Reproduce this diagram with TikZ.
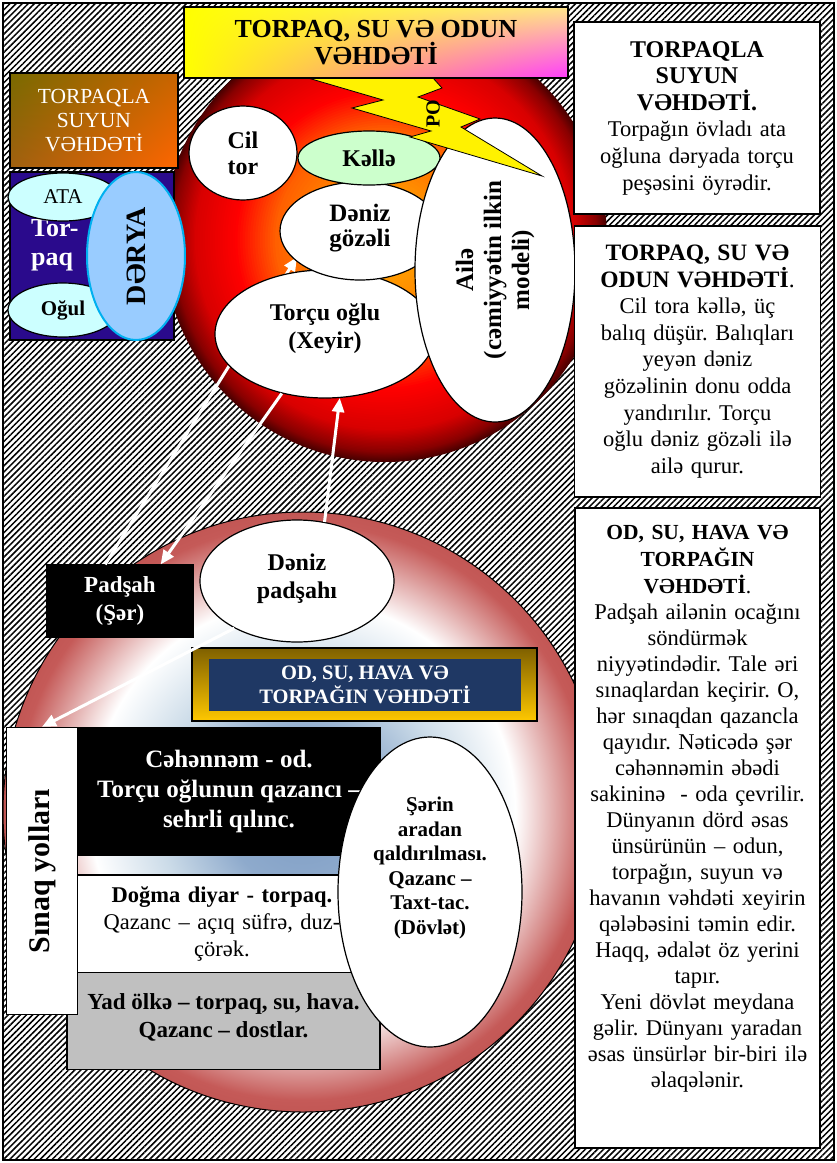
\documentclass[tikz,border=0pt]{standalone}
\usepackage{fontspec}
\setmainfont{Liberation Serif}
\usetikzlibrary{shapes.geometric,arrows.meta,patterns.meta,shadings}
\definecolor{sunA}{HTML}{FFB000}
\definecolor{sunB}{HTML}{FF9000}
\definecolor{sunE}{HTML}{FF6000}
\definecolor{sunC}{HTML}{D80000}
\definecolor{sunF}{HTML}{8A0000}
\definecolor{sunD}{HTML}{4A0000}
\definecolor{ringA}{HTML}{7D9CC4}
\definecolor{ringB}{HTML}{8EAACC}
\definecolor{ringC}{HTML}{CBDBE8}
\definecolor{ringD}{HTML}{C55A58}
\definecolor{ringE}{HTML}{B64A47}
\definecolor{ringF}{HTML}{F0DADA}
\definecolor{ringG}{HTML}{C79896}
\definecolor{ringH}{HTML}{6A2424}
\definecolor{kelleC}{HTML}{CCFFCC}
\definecolor{ataC}{HTML}{CCFFFF}
\definecolor{deryaC}{HTML}{99CCFF}
\definecolor{deryaE}{HTML}{00B0F0}
\definecolor{olvA}{HTML}{7A6A00}
\definecolor{orA}{HTML}{C86400}
\definecolor{orB}{HTML}{A06010}
\definecolor{orC}{HTML}{FF6600}
\definecolor{navyC}{HTML}{1F3864}
\definecolor{goldA}{HTML}{7F6000}
\definecolor{goldB}{HTML}{FFC800}
\definecolor{yadC}{HTML}{C0C0C0}
\definecolor{indA}{HTML}{2A0A8C}
\definecolor{torR}{HTML}{E8103C}
\definecolor{ttlB}{HTML}{FFE58A}
\definecolor{ttlC}{HTML}{FF3CFF}
\pgfdeclareradialshading{ringsun}{\pgfpoint{0bp}{0bp}}{color(0bp)=(ringA); color(6.4bp)=(ringB); color(12bp)=(ringC); color(17.7bp)=(white); color(24bp)=(ringD); color(29bp)=(ringE); color(32.5bp)=(ringF); color(34.3bp)=(ringG); color(35.4bp)=(ringH); color(50bp)=(ringH)}
\newcommand{\fsz}[2]{\fontsize{#1}{#2}\selectfont}
\frenchspacing

\begin{document}
\begin{tikzpicture}[x=1pt, y=-1pt,
  ell/.style={ellipse, draw, line width=1.2pt, fill=white, inner sep=0pt, align=center, font=\fsz{24}{28}\bfseries},
  box/.style={rectangle, draw, line width=1.2pt, inner sep=0pt, align=center},
  rtext/.style={text width=244pt, align=center, inner sep=1pt, font=\fsz{22.5}{26}},
  arr/.style={white, line width=3pt, -{Triangle[width=12pt,length=14pt]}}]

\useasboundingbox (0,0) rectangle (837,1163);
\fill[white] (0,0) rectangle (837,1163);
\fill[pattern={Lines[angle=45,distance=4.3pt,line width=1.5pt]}, pattern color=black] (3,3) rectangle (834,1160);
\draw[line width=1.5pt] (3,3) rectangle (834,1160);

\shadedraw[shading=ringsun, line width=1pt] (303,812) circle (300pt);
\foreach \ra/\rb/\ca/\cb in {222/212/sunD/sunF, 212/190/sunF/sunC, 190/150/sunC/red, 150/110/red/sunE, 110/56/sunE/sunB, 56/0/sunB/sunA}
  \foreach \k in {0,...,15} {
    \pgfmathsetmacro\r{\ra-(\ra-\rb)*\k/16}
    \pgfmathsetmacro\p{100-100*\k/16}
    \fill[\ca!\p!\cb] (385,240) circle (\r pt);
  }

\node[box, fill=black, text=white, minimum width=146pt, minimum height=72pt, font=\fsz{23}{28}\bfseries] (padsah) at (120,601) {Padşah\\(Şər)};
\coordinate (gozelw) at (297,257);
\draw[arr] (padsah.112) -- (gozelw);

\node[ell, minimum width=220pt, minimum height=128pt] (torcu) at (325,334) {Torçu oğlu\\(Xeyir)\\[-12pt]\mbox{}};
\node[ell, minimum width=160pt, minimum height=98pt, font=\fsz{25}{25}\bfseries] (gozel) at (360,231) {Dəniz\\gözəli\\[-13pt]\mbox{}};
\node[ell, fill=kelleC, minimum width=142pt, minimum height=54pt] (kelle) at (369,158) {Kəllə};
\node[ell, minimum width=108pt, minimum height=94pt, font=\fsz{24}{26}\bfseries] (ciltor) at (243,153) {Cil\\tor};
\node[ell, rotate=90, minimum width=304pt, minimum height=160pt, font=\fsz{25}{28}\bfseries] (aile) at (495,270) {Ailə\\(cəmiyyətin ilkin\\modeli)};

\filldraw[fill=yellow, line width=0.8pt] (308,78) -- (433,78) -- (442,88) -- (418,97) -- (480,119) -- (461,127)
  -- (542,176) -- (410,137) -- (431,131) -- (352,108) -- (383,100) -- cycle;
\node[rotate=90, inner sep=0pt, font=\fsz{20}{22}\bfseries] (po) at (433,114) {PO};

\node[box, upper left=yellow, upper right=ttlB, lower left=yellow, lower right=ttlC, minimum width=384pt, minimum height=71pt, font=\fsz{26}{27}\bfseries] (title) at (376,42.5) {TORPAQ, SU VƏ ODUN\\VƏHDƏTİ};

\node[box, fill=white, text width=244pt, minimum height=192pt, inner sep=1pt, font=\fsz{22.5}{26.6}] (boxa) at (697,118)
  {\fsz{24}{26.6}\bfseries TORPAQLA\\SUYUN\\VƏHDƏTİ.\\\fsz{22.5}{26.6}\mdseries Torpağın övladı ata\\oğluna dəryada torçu\\peşəsini öyrədir.};
\node[box, fill=white, text width=244pt, minimum height=271pt, inner sep=1pt, font=\fsz{22.5}{26.6}] (boxb) at (697.5,361.5)
  {\fsz{23.5}{26.6}\bfseries TORPAQ, SU VƏ\\ODUN VƏHDƏTİ\mdseries.\\\fsz{22.5}{26.6}Cil tora kəllə, üç\\balıq düşür. Balıqları\\yeyən dəniz\\gözəlinin donu odda\\yandırılır. Torçu\\oğlu dəniz gözəli ilə\\ailə qurur.};
\node[box, fill=white, minimum width=245pt, minimum height=640pt] (boxc) at (697.5,828) {};
\node[rtext, anchor=north] (boxctxt) at ([yshift=-17pt]boxc.north)
  {\fsz{21.5}{27}\bfseries OD, SU, HAVA VƏ\\TORPAĞIN\\VƏHDƏTİ\mdseries.\\\fsz{22.5}{26}Padşah ailənin ocağını\\söndürmək\\niyyətindədir. Tale əri\\sınaqlardan keçirir. O,\\hər sınaqdan qazancla\\qayıdır. Nəticədə şər\\cəhənnəmin əbədi\\sakininə\ \ - oda çevrilir.\\Dünyanın dörd əsas\\ünsürünün – odun,\\torpağın, suyun və\\havanın vəhdəti xeyirin\\qələbəsini təmin edir.\\Haqq, ədalət öz yerini\\tapır.\\Yeni dövlət meydana\\gəlir. Dünyanı yaradan\\əsas ünsürlər bir-biri ilə\\əlaqələnir.};

\node[box, upper left=olvA, upper right=orA, lower left=orB, lower right=orC, minimum width=168pt, minimum height=95pt, text=white, font=\fsz{21.5}{24}] (unity) at (94,120.5) {TORPAQLA\\SUYUN\\VƏHDƏTİ};
\node[box, left color=indA, middle color=torR, right color=indA, minimum width=164pt, minimum height=168pt] (torbox) at (92,256) {};
\node[anchor=west, align=left, inner sep=0pt, text=white, font=\fsz{26}{29}\bfseries] (torpaq) at (31,245) {Tor-\\paq};
\node[ell, fill=ataC, minimum width=110pt, minimum height=48pt, font=\fsz{21}{24}\mdseries] (ata) at (63,197) {ATA};
\node[ell, fill=ataC, minimum width=110pt, minimum height=54pt, font=\fsz{21}{24}\bfseries] (ogul) at (63,310) {Oğul};
\node[ell, fill=deryaC, draw=deryaE, line width=2pt, rotate=90, minimum width=168pt, minimum height=98pt, font=\fsz{28}{30}\bfseries] (derya) at (136,256) {DƏRYA};

\node[ell, minimum width=194pt, minimum height=122pt] (denizp) at (297,581) {Dəniz\\padşahı\\[-18pt]\mbox{}};
\node[box, top color=goldA, bottom color=goldB, minimum width=345pt, minimum height=73pt] (odbox) at (364.5,684.5) {};
\node[fill=navyC, minimum width=312pt, minimum height=52pt, inner sep=0pt, text=white, align=center, font=\fsz{20.5}{24}\bfseries] (odtxt) at (365,685) {OD, SU, HAVA VƏ\\TORPAĞIN VƏHDƏTİ};

\node[box, fill=black, text=white, minimum width=303pt, minimum height=127pt, font=\fsz{25}{30}\bfseries] (cehennem) at (229,791.5) {Cəhənnəm - od.\\Torçu oğlunun qazancı –\\sehrli qılınc.};
\node[box, fill=white, text width=290pt, minimum height=98pt, font=\fsz{22.5}{27}] (dogma) at (222,924) {\bfseries Doğma diyar - torpaq.\\\mdseries Qazanc – açıq süfrə, duz-\\çörək.};
\node[box, fill=yadC, minimum width=313pt, minimum height=97pt, font=\fsz{23}{28}\bfseries] (yad) at (223.5,1021) {Yad ölkə – torpaq, su, hava.\\Qazanc – dostlar.\\[-18pt]\mbox{}};
\node[box, fill=white, minimum width=71pt, minimum height=287pt, font=\fsz{30}{32}\bfseries] (sinaq) at (42,871) {\rotatebox{90}{Sınaq yolları}};
\node[ell, minimum width=184pt, minimum height=310pt, font=\fsz{21}{24.6}\bfseries] (serin) at (430,892) {Şərin\\aradan\\qaldırılması.\\Qazanc –\\Taxt-tac.\\(Dövlət)\\[28pt]\mbox{}};

\draw[arr] (torcu.234) -- (padsah.42);
\draw[arr] (denizp.65) -- (torcu.283);
\draw[arr] (denizp.217) -- (sinaq.north);

\end{tikzpicture}
\end{document}
